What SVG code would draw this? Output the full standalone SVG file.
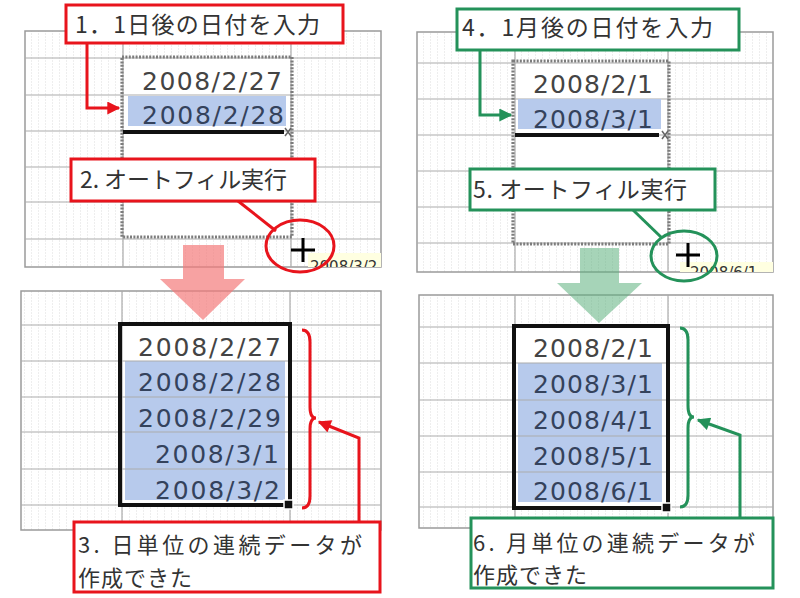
<svg xmlns="http://www.w3.org/2000/svg" width="800" height="598" viewBox="0 0 800 598">
<style>
.gbox{fill:url(#stripes);stroke:#9a9a9a;stroke-width:1.5}
.gl{stroke:#ababab;stroke-width:1.2;fill:none}
.sel{fill:#ffffff}
.ants{fill:none;stroke:#7c7c7c;stroke-width:3.2;stroke-dasharray:2 1.4}
.hl{fill:#b7caec}
.date{font-family:"DejaVu Sans","Liberation Sans",sans-serif;font-size:25px;fill:#444444}
.dateb{font-family:"DejaVu Sans","Liberation Sans",sans-serif;font-size:25px;fill:#34425c}
.lbl{font-family:"Noto Sans CJK JP","Liberation Sans",sans-serif;font-size:23px;fill:#333333}
.lbl2{font-family:"Noto Sans CJK JP","Liberation Sans",sans-serif;font-size:22px;fill:#333333}
.rbox{fill:#ffffff;stroke:#e8141c;stroke-width:3}
.gboxl{fill:#ffffff;stroke:#24925a;stroke-width:3}
.rl{fill:none;stroke:#e8141c;stroke-width:3}
.grl{fill:none;stroke:#24925a;stroke-width:3}
.thick{stroke:#111;stroke-width:4;fill:none}
.tip{font-family:"DejaVu Sans","Liberation Sans",sans-serif;font-size:15px;fill:#333}
</style>
<defs>
<pattern id="stripes" width="7" height="3" patternUnits="userSpaceOnUse">
<rect width="7" height="3" fill="#ffffff"/>
<rect x="3" y="0" width="1" height="2" fill="#eeeeee"/>
</pattern>
<marker id="ar" viewBox="0 0 10 10" refX="9" refY="5" markerWidth="14" markerHeight="13" markerUnits="userSpaceOnUse" orient="auto">
<path d="M0,0 L10,5 L0,10 z" fill="#e8141c"/>
</marker>
<marker id="ag" viewBox="0 0 10 10" refX="9" refY="5" markerWidth="14" markerHeight="13" markerUnits="userSpaceOnUse" orient="auto">
<path d="M0,0 L10,5 L0,10 z" fill="#24925a"/>
</marker>
<clipPath id="ctl"><rect x="308" y="252" width="73" height="15"/></clipPath>
<clipPath id="ctr"><rect x="680" y="261" width="93" height="11"/></clipPath>
</defs>

<g id="sheet-top-left">
<rect class="gbox" x="25" y="31" width="356" height="236"/>
<rect class="sel" x="122" y="57" width="170" height="180"/>
<path class="gl" d="M123,31V267M291,31V267M25,58H381M25,95H381M25,131H381M25,167H381M25,202H381M25,239H381"/>
<rect class="hl" x="128" y="96" width="158" height="30"/>
<rect class="ants" x="122" y="57" width="170" height="180"/>
<line class="thick" x1="123" y1="132" x2="284" y2="132"/>
<path d="M285,128 L291,136 M285,136 L291,128" stroke="#666" stroke-width="1.5"/>
<text class="date" x="142" y="90" textLength="140" lengthAdjust="spacing">2008/2/27</text>
<text class="dateb" x="142" y="124" textLength="142" lengthAdjust="spacing">2008/2/28</text>
<rect x="308" y="253" width="73" height="14" fill="#ffffe1"/>
<text class="tip" x="310" y="272" clip-path="url(#ctl)">2008/3/2</text>
<path d="M291,250 H315 M303,238 V262" stroke="#000" stroke-width="3"/>
</g>

<g id="sheet-top-right">
<rect class="gbox" x="417" y="32" width="356" height="240"/>
<rect class="sel" x="513" y="61" width="156" height="183"/>
<path class="gl" d="M515,32V272M668,32V272M417,63H773M417,99H773M417,135H773M417,171H773M417,207H773M417,243H773"/>
<rect class="hl" x="518" y="99" width="143" height="30"/>
<rect class="ants" x="513" y="61" width="156" height="183"/>
<line class="thick" x1="515" y1="135" x2="659" y2="135"/>
<path d="M662,131 L668,139 M662,139 L668,131" stroke="#666" stroke-width="1.5"/>
<text class="date" x="533" y="93" textLength="120" lengthAdjust="spacing">2008/2/1</text>
<text class="dateb" x="533" y="128" textLength="120" lengthAdjust="spacing">2008/3/1</text>
<rect x="680" y="262" width="93" height="10" fill="#ffffe1"/>
<text class="tip" x="690" y="278" clip-path="url(#ctr)">2008/6/1</text>
<path d="M676,255 H700 M688,243 V267" stroke="#000" stroke-width="3"/>
</g>

<g id="sheet-bottom-left">
<rect class="gbox" x="21" y="291" width="360" height="239"/>
<rect class="sel" x="120" y="324" width="170" height="181"/>
<rect class="hl" x="125" y="361" width="160" height="139"/>
<path class="gl" d="M122,291V530M290,291V530M21,325H381M21,361H381M21,397H381M21,432H381M21,469H381M21,505H381"/>
<text class="date" x="138" y="356" textLength="143" lengthAdjust="spacing">2008/2/27</text>
<text class="dateb" x="138" y="391" textLength="143" lengthAdjust="spacing">2008/2/28</text>
<text class="dateb" x="138" y="427" textLength="143" lengthAdjust="spacing">2008/2/29</text>
<text class="dateb" x="155" y="463" textLength="124" lengthAdjust="spacing">2008/3/1</text>
<text class="dateb" x="155" y="499" textLength="125" lengthAdjust="spacing">2008/3/2</text>
<rect class="thick" x="120" y="324" width="170" height="181"/>
<rect x="284" y="500" width="9" height="9" fill="#111" stroke="#fff" stroke-width="1.5"/>
</g>

<g id="sheet-bottom-right">
<rect class="gbox" x="419" y="295" width="354" height="233"/>
<rect class="sel" x="514" y="326" width="154" height="182"/>
<rect class="hl" x="518" y="363" width="144" height="139"/>
<path class="gl" d="M515,295V528M668,295V528M419,327H773M419,363H773M419,400H773M419,436H773M419,472H773M419,507H773"/>
<text class="date" x="533" y="357" textLength="120" lengthAdjust="spacing">2008/2/1</text>
<text class="dateb" x="533" y="393" textLength="120" lengthAdjust="spacing">2008/3/1</text>
<text class="dateb" x="533" y="429" textLength="120" lengthAdjust="spacing">2008/4/1</text>
<text class="dateb" x="533" y="465" textLength="120" lengthAdjust="spacing">2008/5/1</text>
<text class="dateb" x="533" y="500" textLength="120" lengthAdjust="spacing">2008/6/1</text>
<rect class="thick" x="514" y="326" width="154" height="182"/>
<rect x="662" y="503" width="9" height="9" fill="#111" stroke="#fff" stroke-width="1.5"/>
</g>

<g id="connectors">
<path d="M183,245 H224 V279 H245 L203,320 L160,279 H183 Z" fill="#f47a7a" opacity="0.7"/>
<path d="M580,248 H619 V283 H642 L599,323 L557,283 H580 Z" fill="#5cb07e" opacity="0.55"/>
<path class="rl" d="M87,43 V108 H119" marker-end="url(#ar)"/>
<path class="grl" d="M480,50 V115 H511" marker-end="url(#ag)"/>
<line class="rl" x1="238" y1="201" x2="276" y2="231"/>
<line class="grl" x1="633" y1="210" x2="662" y2="238"/>
<ellipse class="rl" cx="300" cy="246" rx="34" ry="26"/>
<ellipse class="grl" cx="684" cy="256" rx="33" ry="25"/>
<path class="rl" d="M302,330 Q310,330 310,342 L310,407 Q310,418 316,418 Q310,418 310,429 L310,496 Q310,508 302,508"/>
<path class="grl" d="M680,328 Q688,328 688,340 L688,406 Q688,417 694,417 Q688,417 688,428 L688,495 Q688,507 680,507"/>
<path class="rl" d="M359,521 V438 L319,422" marker-end="url(#ar)"/>
<path class="grl" d="M740,518 V435 L698,420" marker-end="url(#ag)"/>
</g>

<g id="label-1">
<rect class="rbox" x="66" y="5" width="277" height="38"/>
<text class="lbl" x="75" y="33" textLength="245" lengthAdjust="spacing">1．1日後の日付を入力</text>
</g>
<g id="label-2">
<rect class="rbox" x="71" y="159" width="244" height="42"/>
<text class="lbl" x="80" y="188" textLength="207" lengthAdjust="spacing">2. オートフィル実行</text>
</g>
<g id="label-3">
<rect class="rbox" x="74" y="522" width="306" height="70"/>
<text class="lbl2" x="78" y="553" textLength="284" lengthAdjust="spacing">3. 日単位の連続データが</text>
<text class="lbl2" x="78" y="586" textLength="114" lengthAdjust="spacing">作成できた</text>
</g>
<g id="label-4">
<rect class="gboxl" x="457" y="9" width="282" height="41"/>
<text class="lbl" x="462" y="36" textLength="251" lengthAdjust="spacing">4．1月後の日付を入力</text>
</g>
<g id="label-5">
<rect class="gboxl" x="470" y="169" width="245" height="41"/>
<text class="lbl" x="473" y="198" textLength="214" lengthAdjust="spacing">5. オートフィル実行</text>
</g>
<g id="label-6">
<rect class="gboxl" x="471" y="518" width="302" height="70"/>
<text class="lbl2" x="473" y="551" textLength="282" lengthAdjust="spacing">6. 月単位の連続データが</text>
<text class="lbl2" x="473" y="583" textLength="114" lengthAdjust="spacing">作成できた</text>
</g>
</svg>
